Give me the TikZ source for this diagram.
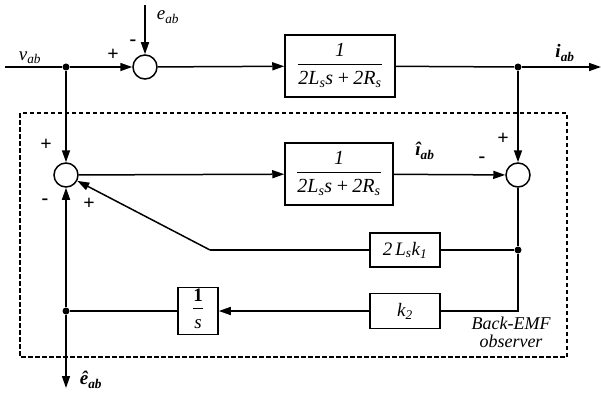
\documentclass[tikz,border=0pt]{standalone}
\usepackage{fontspec}
\setmainfont{Liberation Serif}
\usetikzlibrary{arrows.meta}
\newcommand\sbs[1]{\textsubscript{#1}}
\newcommand\frc[2]{\begin{tabular}{@{}c@{}}#1\\[1pt]\hline\rule{0pt}{20pt}#2\end{tabular}}
\begin{document}
\begin{tikzpicture}[x=1pt,y=-1pt, line width=1.5pt,
  >={Triangle[length=12pt,width=8pt]},
  sumnode/.style={circle,draw,minimum size=24pt,inner sep=0pt},
  blk/.style={draw,rectangle,inner sep=0pt},
  dotnode/.style={circle,fill=black,draw=none,inner sep=0pt,minimum size=7pt},
  sign/.style={font=\fontsize{20}{20}\selectfont\bfseries, inner sep=0pt},
  lbl/.style={font=\fontsize{19}{19}\selectfont\itshape},
  blbl/.style={font=\fontsize{19}{19}\selectfont\bfseries\itshape},
  obstext/.style={font=\fontsize{18}{18}\selectfont\itshape, inner sep=0pt, text height=11pt, text depth=3pt},
  frac/.style={font=\fontsize{20}{21}\selectfont\itshape}]
\useasboundingbox (0,0) rectangle (601,393);

% blocks and sums
\node[sumnode] (s1) at (145,67) {};
\node[sumnode] (s2) at (66,175) {};
\node[sumnode] (s3) at (518,175) {};
\node[blk, minimum width=110pt, minimum height=62pt, frac] (b1) at (340,66)
  {\frc{1}{2L\sbs{s}s\,+\,2R\sbs{s}}};
\node[blk, minimum width=108pt, minimum height=62pt, frac] (b2) at (339,174)
  {\frc{1}{2L\sbs{s}s\,+\,2R\sbs{s}}};
\node[blk, minimum width=70pt, minimum height=34pt, lbl] (bk1) at (405,250) {2\,L\sbs{s}k\sbs{1}};
\node[blk, minimum width=70pt, minimum height=35pt, lbl] (bk2) at (405,311) {k\sbs{2}};
\node[blk, minimum width=40pt, minimum height=47pt, font=\fontsize{19}{20}\selectfont] (bint) at (198,311)
  {\frc{\textbf{1}}{\textit{s}}};

% junctions
\node[dotnode] (j1) at (66,67) {};
\node[dotnode] (j2) at (518,67) {};
\node[dotnode] (j3) at (518,250) {};
\node[dotnode] (j4) at (66,311) {};
\coordinate (in) at (5,67);
\coordinate (out) at (601,67);
\coordinate (etop) at (145,5);
\coordinate (eout) at (66,388);
\coordinate (bend) at (210,250);

% connectors
\draw (in) -- (j1);
\draw[->] (j1) -- (s1);
\draw[->] (etop) -- (s1);
\draw[->] (s1) -- (b1);
\draw (b1) -- (j2);
\draw[->] (j2) -- (out);
\draw[->] (j1) -- (s2);
\draw[->] (j2) -- (s3);
\draw[->] (s2) -- (b2);
\draw[->] (b2) -- (s3);
\draw (s3) -- (j3);
\draw (j3) -- (bk1);
\draw (bk1) -- (bend);
\draw[->] (bend) -- (s2);
\draw (j3) |- (bk2);
\draw[->] (bk2) -- (bint);
\draw (bint) -- (j4);
\draw[->] (j4) -- (s2);
\draw[->] (j4) -- (eout);

% observer frame
\draw[line width=1.6pt, dash pattern=on 4.5pt off 2.5pt] (20,113) rectangle (567,357);
\node[obstext] (obs1) at (511,325) {Back-EMF};
\node[obstext] (obs2) at (511,343) {observer};

% labels
\node[lbl] (lv) at (30,58) {v\sbs{ab}};
\node[lbl] (le) at (168,17) {e\sbs{ab}};
\node[blbl] (li) at (565,53) {i\sbs{ab}};
\node[blbl] (lih) at (425,151) {î\sbs{ab}};
\node[blbl] (leh) at (91,380) {ê\sbs{ab}};

% signs
\node[sign] (p1) at (113,55) {+};
\node[sign] (m1) at (133,43) {-};
\node[sign] (p2) at (46,145) {+};
\node[sign] (m2) at (45,202) {-};
\node[sign] (p3) at (89,204) {+};
\node[sign] (p4) at (503,139) {+};
\node[sign] (m3) at (482,160) {-};
\end{tikzpicture}
\end{document}
